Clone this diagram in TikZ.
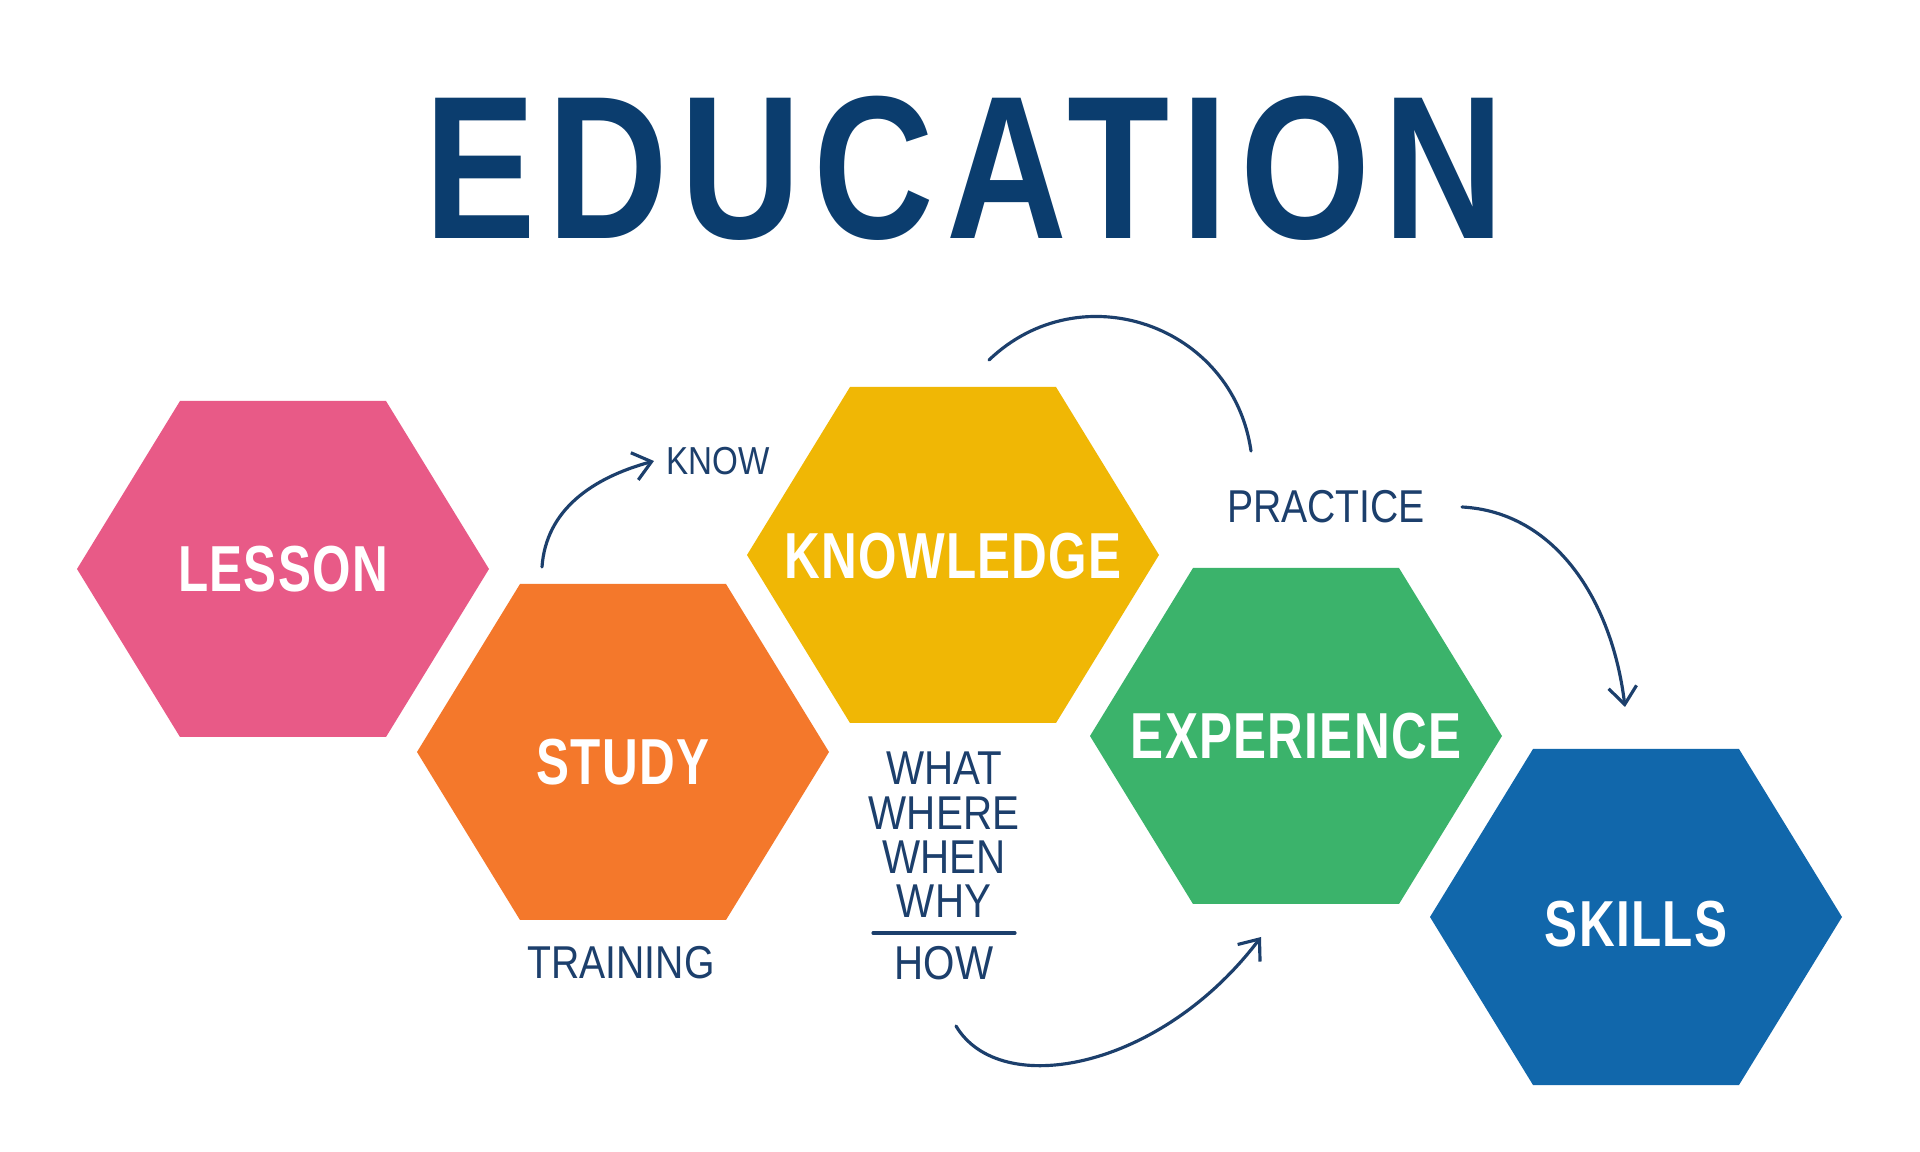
\documentclass[tikz,border=0pt]{standalone}
\usepackage{fontspec}
\usetikzlibrary{arrows.meta}
\newfontfamily\titlefont[FakeStretch=0.82,LetterSpace=6]{Liberation Sans}
\newfontfamily\hexfont[FakeStretch=0.76,LetterSpace=2]{Liberation Sans}
\newfontfamily\handfont[FakeStretch=0.85]{Liberation Sans}
\definecolor{titleblue}{HTML}{0B3D6E}
\definecolor{lessonpink}{HTML}{E85A87}
\definecolor{studyorange}{HTML}{F4782B}
\definecolor{knowyellow}{HTML}{F0B705}
\definecolor{expgreen}{HTML}{3BB36B}
\definecolor{skillblue}{HTML}{1167AB}
\definecolor{inkblue}{HTML}{1C3F6C}
\begin{document}
\begin{tikzpicture}[x=0.01cm,y=-0.01cm]
\tikzstyle{hexlabel}=[text=white,font=\hexfont\bfseries\fontsize{18.5}{20}\selectfont]
\tikzstyle{hand}=[text=inkblue,font=\handfont\fontsize{13.1}{15}\selectfont]
\tikzstyle{ink}=[draw=inkblue,line width=0.9pt,line cap=round]
\tikzstyle{inkarrow}=[ink,-{Straight Barb[length=5pt,width=8pt]}]
\fill[white] (0,0) rectangle (1920,1152);
\useasboundingbox (0,0) rectangle (1920,1152);
% title
\node[text=titleblue,font=\titlefont\bfseries\fontsize{58}{60}\selectfont] (title) at (964,168) {EDUCATION};
% hexagons
\foreach \nm/\cx/\cy/\ty/\col/\txt in {lesson/283/569/569/lessonpink/LESSON,study/623/752/762/studyorange/STUDY,knowledge/953/555/556/knowyellow/KNOWLEDGE,experience/1296/736/736/expgreen/EXPERIENCE,skills/1636/917/924/skillblue/SKILLS}{
  \fill[\col] (\cx-206,\cy) -- (\cx-103,\cy-168) -- (\cx+103,\cy-168) -- (\cx+206,\cy) -- (\cx+103,\cy+168) -- (\cx-103,\cy+168) -- cycle;
  \node[hexlabel] (\nm) at (\cx,\ty) {\txt};
}
% handwritten notes
\node[hand,font=\handfont\fontsize{11.1}{13}\selectfont] (know) at (718,461) {KNOW};
\node[hand] (practice) at (1326,507) {PRACTICE};
\node[hand] (training) at (621,963) {TRAINING};
\node[hand,align=center,font=\handfont\fontsize{13.5}{12.6}\selectfont] (questions) at (944,835) {WHAT\\WHERE\\WHEN\\WHY};
\node[hand,font=\handfont\fontsize{13.5}{15}\selectfont] (how) at (944,963) {HOW};
\draw[ink] (873,933) -- (1015,933);
% connectors
\coordinate (studytop) at (542,567);
\coordinate (knowtop) at (989,360);
\coordinate (practop) at (1251,451);
\coordinate (skilltop) at (1625,707);
\coordinate (howlow) at (956,1026);
\coordinate (expbelow) at (1261,937);
\draw[inkarrow] (studytop) .. controls (546,510) and (592,478) .. (know.west);
\draw[ink] (knowtop) .. controls (1081,272) and (1233,325) .. (practop);
\draw[inkarrow] ([xshift=7pt]practice.east) .. controls (1555,512) and (1612,600) .. (skilltop);
\draw[inkarrow] (howlow) .. controls (1000,1100) and (1160,1070) .. (expbelow);
\end{tikzpicture}
\end{document}
